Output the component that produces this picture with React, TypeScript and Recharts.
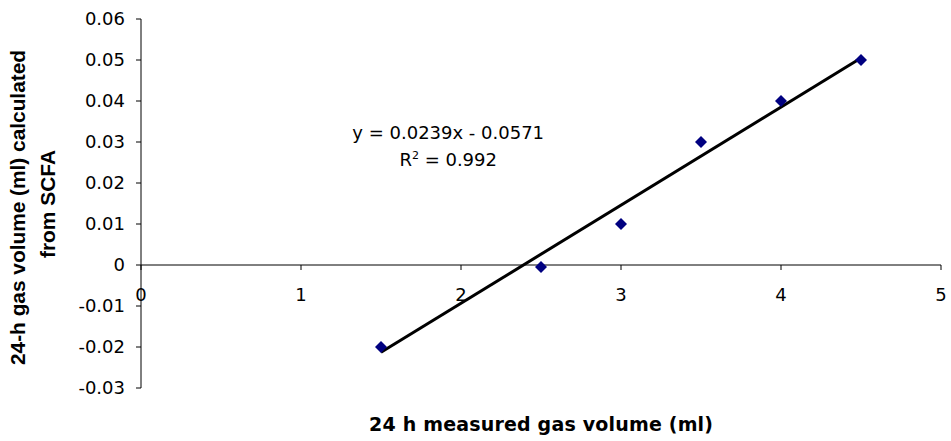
import React from 'react';
import { ScatterChart, Scatter, XAxis, YAxis, ReferenceLine, ReferenceDot } from 'recharts';

const measuredGas = [1.5, 2.5, 3, 3.5, 4, 4.5];
const scfaGas = [-0.02, -0.0005, 0.01, 0.03, 0.04, 0.05];
const xTicks = [0, 1, 2, 3, 4, 5];
const xTickLabels = ['0', '1', '2', '3', '4', '5'];
const yTicks = [-0.03, -0.02, -0.01, 0, 0.01, 0.02, 0.03, 0.04, 0.05, 0.06];
const yTickLabels = ['-0.03', '-0.02', '-0.01', '0', '0.01', '0.02', '0.03', '0.04', '0.05', '0.06'];
const trendX = [1.5, 4.5];
const trendY = [-0.0213, 0.0505];
const equationText = 'y = 0.0239x - 0.0571';
const r2Text = ' = 0.992';
const equationAnchor = { x: 1.92, y: 0.0307 };
const xTitle = '24 h measured gas volume (ml)';
const yTitleLines = ['24-h gas volume (ml) calculated', 'from SCFA'];

const points = measuredGas.map((x, i) => ({ x, y: scfaGas[i] }));

const FONT = 'DejaVu Sans';
const TITLE_FONT = 'Liberation Sans';

const Diamond = (p: any) => {
  const { cx, cy } = p;
  const s = 6;
  return (
    <polygon
      points={`${cx},${cy - s} ${cx + s},${cy} ${cx},${cy + s} ${cx - s},${cy}`}
      fill="#000080"
    />
  );
};

const renderXTitle = (props: any) => {
  const vb = props.viewBox || {};
  const cx = vb.x + vb.width / 2;
  return (
    <text
      x={cx}
      y={vb.y + 43}
      textAnchor="middle"
      fontFamily={FONT}
      fontWeight="bold"
      fontSize={19}
      fill="#000"
      textLength={344}
      lengthAdjust="spacing"
    >
      {xTitle}
    </text>
  );
};

const renderYTitle = (props: any) => {
  const vb = props.viewBox || {};
  const mid = vb.y + vb.height / 2;
  const x1 = 24.5;
  const y1 = mid + 4;
  const x2 = 55;
  const y2 = mid + 0.5;
  return (
    <g>
      <text
        transform={`rotate(-90, ${x1}, ${y1})`}
        x={x1}
        y={y1}
        textAnchor="middle"
        fontFamily={TITLE_FONT}
        fontWeight="bold"
        fontSize={20.5}
        fill="#000"
        textLength={315}
        lengthAdjust="spacingAndGlyphs"
      >
        {yTitleLines[0]}
      </text>
      <text
        transform={`rotate(-90, ${x2}, ${y2})`}
        x={x2}
        y={y2}
        textAnchor="middle"
        fontFamily={TITLE_FONT}
        fontWeight="bold"
        fontSize={20.5}
        fill="#000"
        textLength={108}
        lengthAdjust="spacingAndGlyphs"
      >
        {yTitleLines[1]}
      </text>
    </g>
  );
};

export default function App() {
  return (
    <div style={{ position: 'absolute', left: 0, top: 0, width: 951, height: 441, overflow: 'hidden' }}>
      <ScatterChart
        width={951}
        height={441}
        margin={{ top: 19, right: 10, bottom: 0, left: 0 }}
        style={{ fontFamily: FONT }}
      >
        <XAxis
          dataKey="x"
          type="number"
          domain={[0, 5]}
          ticks={xTicks}
          tick={false}
          tickLine={false}
          axisLine={false}
          height={53}
          label={renderXTitle}
        />
        <YAxis
          dataKey="y"
          type="number"
          domain={[-0.03, 0.06]}
          ticks={yTicks}
          interval={0}
          width={141}
          tickSize={5}
          tickMargin={11}
          tickFormatter={(v: number, i: number) => yTickLabels[i]}
          tick={{ fill: '#000', fontSize: 18, fontFamily: FONT }}
          axisLine={{ stroke: '#000' }}
          tickLine={{ stroke: '#000' }}
          label={renderYTitle}
        />
        <ReferenceLine y={0} stroke="#000" strokeWidth={1} />
        {xTicks.map((t, i) => (
          <ReferenceDot
            key={`xt-${t}`}
            x={t}
            y={0}
            r={0}
            ifOverflow="visible"
            shape={(p: any) => (
              <g>
                <line x1={p.cx} y1={p.cy} x2={p.cx} y2={p.cy + 5} stroke="#000" strokeWidth={1} />
                <text x={p.cx} y={p.cy + 36} textAnchor="middle" fontFamily={FONT} fontSize={18} fill="#000">
                  {xTickLabels[i]}
                </text>
              </g>
            )}
          />
        ))}
        <Scatter data={points} shape={Diamond} isAnimationActive={false} />
        <ReferenceLine
          segment={[
            { x: trendX[0], y: trendY[0] },
            { x: trendX[1], y: trendY[1] },
          ]}
          stroke="#000"
          strokeWidth={3}
        />
        <ReferenceDot
          x={equationAnchor.x}
          y={equationAnchor.y}
          r={0}
          ifOverflow="visible"
          shape={(p: any) => (
            <text x={p.cx} y={p.cy} textAnchor="middle" fontFamily={FONT} fontSize={18} fill="#000">
              <tspan x={p.cx} dy={0}>{equationText}</tspan>
              <tspan x={p.cx} dy={27}>R</tspan>
              <tspan dy={-7} fontSize={11}>2</tspan>
              <tspan dy={7}>{r2Text}</tspan>
            </text>
          )}
        />
      </ScatterChart>
    </div>
  );
}
